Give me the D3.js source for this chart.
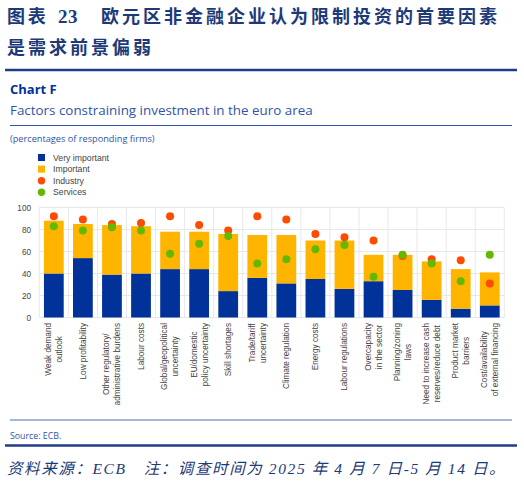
<!DOCTYPE html>
<html>
    <head>
        <title>Chart F</title>
        <meta charset="UTF-8">
        <style>
            body { margin: 0; background: #ffffff; }
            svg { display: block; }
        </style>
    </head>
    <body>
        <script src="https://cdn.jsdelivr.net/npm/d3@7/dist/d3.min.js" charset="utf-8"></script>
        <script>

            //Chart data.
            var categories = [
                ["Weak demand", "outlook"],
                ["Low profitability"],
                ["Other regulatory/", "administrative burdens"],
                ["Labour costs"],
                ["Global/geopolitical", "uncertainty"],
                ["EU/domestic", "policy uncertainty"],
                ["Skill shortages"],
                ["Trade/tariff", "uncertainty"],
                ["Climate regulation"],
                ["Energy costs"],
                ["Labour regulations"],
                ["Overcapacity", "in the sector"],
                ["Planning/zoning", "laws"],
                ["Need to increase cash", "reserves/reduce debt"],
                ["Product market", "barriers"],
                ["Cost/availability", "of external financing"]
            ];
            var veryImportant = [40, 54, 39, 40, 44, 44, 24, 36, 31, 35, 26, 33, 25, 16, 8, 11];
            var important     = [48, 31, 45, 43, 34, 34, 52, 39, 44, 35, 44, 24, 32, 35, 36, 30];
            var industry      = [92, 89, 85, 86, 92, 84, 79, 92, 89, 76, 73, 70, 56, 53, 52, 31];
            var services      = [83, 79, 82, 79, 58, 67, 74, 49, 53, 62, 66, 37, 57, 49, 33, 57];
            var yTicks = [0, 20, 40, 60, 80, 100];
            var legendItems = [
                { label: "Very important", kind: "square", color: "#003299" },
                { label: "Important", kind: "square", color: "#ffb400" },
                { label: "Industry", kind: "dot", color: "#ff4b00" },
                { label: "Services", kind: "dot", color: "#65b800" }
            ];

            var navy = "#1c3a78",
                ecbBlue = "#003299",
                lightBlue = "#2e55a8",
                axisFont = "'Liberation Sans', Arial, sans-serif",
                headFont = "'Open Sans', 'Noto Sans', sans-serif",
                cjkFont = "'Liberation Serif', 'Noto Sans CJK SC', serif";

            var svg = d3.select("body").append("svg")
                        .attr("width", 524)
                        .attr("height", 481);

            //Chinese report title (two lines).
            function cjkText(x, y, size, str, spacing) {
                return svg.append("text")
                          .attr("x", x)
                          .attr("y", y)
                          .attr("font-family", cjkFont)
                          .attr("font-size", size)
                          .attr("font-weight", "bold")
                          .attr("letter-spacing", spacing)
                          .attr("fill", navy)
                          .text(str);
            }
            cjkText(7, 23, 18, "图表", 2.8);
            cjkText(58, 23, 19, "23", 0.5);
            cjkText(101, 23, 18, "欧元区非金融企业认为限制投资的首要因素", 3);
            cjkText(7, 54, 18, "是需求前景偏弱", 3);

            //Horizontal rules.
            function rule(y, x1, x2, width, color) {
                svg.append("line")
                   .attr("x1", x1).attr("x2", x2)
                   .attr("y1", y).attr("y2", y)
                   .attr("stroke", color)
                   .attr("stroke-width", width);
            }
            rule(70, 5, 517, 2.5, "#1f3c88");
            rule(125.5, 10, 512, 1, lightBlue);
            rule(420, 10, 512, 1, "#4a72c0");
            rule(445.5, 5, 517, 2.5, "#1f3c88");

            //ECB chart header.
            svg.append("text")
               .attr("x", 10).attr("y", 93.5)
               .attr("font-family", headFont)
               .attr("font-size", 13)
               .attr("font-weight", "bold")
               .attr("fill", ecbBlue)
               .text("Chart F");
            svg.append("text")
               .attr("x", 10).attr("y", 115)
               .attr("font-family", headFont)
               .attr("font-size", 13.4)
               .attr("fill", lightBlue)
               .text("Factors constraining investment in the euro area");
            svg.append("text")
               .attr("x", 10).attr("y", 141.5)
               .attr("font-family", headFont)
               .attr("font-size", 9.2)
               .attr("fill", lightBlue)
               .text("(percentages of responding firms)");

            //Legend.
            var legend = svg.append("g").attr("transform", "translate(41.5,157.5)");
            legendItems.forEach(function (d, i) {
                var row = legend.append("g").attr("transform", "translate(0," + (i * 11.6) + ")");
                if (d.kind == "square")
                    row.append("rect").attr("x", -3.5).attr("y", -3.5).attr("width", 7).attr("height", 7).attr("fill", d.color);
                else
                    row.append("circle").attr("r", 3.7).attr("fill", d.color);
                row.append("text")
                   .attr("x", 11.5).attr("y", 0)
                   .attr("dy", "0.35em")
                   .attr("font-family", axisFont)
                   .attr("font-size", 8.7)
                   .attr("fill", "#444444")
                   .text(d.label);
            });

            //Scales.
            var idx = d3.range(categories.length);
            var x = d3.scaleBand()
                      .domain(idx)
                      .range([39.3, 504.3])
                      .paddingInner(0.32)
                      .paddingOuter(0.16);
            var y = d3.scaleLinear()
                      .domain([0, 100])
                      .range([317.5, 207.5]);
            var step = x.step(),
                bandLeft = function (i) { return x(i) - step * 0.16; };

            //Grid: horizontal lines at ticks, vertical lines between categories.
            var grid = svg.append("g").attr("stroke", "#e2e2e2").attr("stroke-width", 0.8);
            grid.selectAll("line.h").data(yTicks).enter().append("line")
                .attr("x1", 39.3).attr("x2", 504.3)
                .attr("y1", function (d) { return y(d); })
                .attr("y2", function (d) { return y(d); });
            grid.selectAll("line.v").data(d3.range(categories.length + 1)).enter().append("line")
                .attr("x1", function (i) { return 39.3 + i * step; })
                .attr("x2", function (i) { return 39.3 + i * step; })
                .attr("y1", y(100)).attr("y2", y(0));

            //Y axis labels.
            var yAxis = svg.append("g")
                           .attr("transform", "translate(34,0)")
                           .call(d3.axisLeft(y).tickValues(yTicks).tickSize(0).tickPadding(3));
            yAxis.select(".domain").remove();
            yAxis.selectAll("text")
                 .attr("font-family", axisFont)
                 .attr("font-size", 8.2)
                 .attr("fill", "#444444");

            //Stacked bars.
            var stackRows = idx.map(function (i) { return { i: i, very: veryImportant[i], imp: important[i] }; });
            var stacked = d3.stack().keys(["very", "imp"])(stackRows);
            var barColors = ["#003299", "#ffb400"];
            svg.selectAll("g.layer").data(stacked).enter().append("g")
               .attr("fill", function (d, k) { return barColors[k]; })
               .selectAll("rect").data(function (d) { return d; }).enter().append("rect")
               .attr("x", function (d) { return x(d.data.i); })
               .attr("width", x.bandwidth())
               .attr("y", function (d) { return y(d[1]); })
               .attr("height", function (d) { return y(d[0]) - y(d[1]); });

            //Dots: industry first, services drawn on top.
            function dots(values, color) {
                svg.append("g").selectAll("circle").data(values).enter().append("circle")
                   .attr("cx", function (d, i) { return x(i) + x.bandwidth() / 2; })
                   .attr("cy", function (d) { return y(d); })
                   .attr("r", 4)
                   .attr("fill", color);
            }
            dots(industry, "#ff4b00");
            dots(services, "#65b800");

            //Rotated category labels, lines centred on each other, block hung from the axis.
            var lineGap = 11;
            idx.forEach(function (i) {
                var lines = categories[i];
                var cx = bandLeft(i) + step / 2;
                var g = svg.append("g");
                var texts = lines.map(function (str, k) {
                    var lx = cx + (k - (lines.length - 1) / 2) * lineGap;
                    return g.append("text")
                            .attr("font-family", axisFont)
                            .attr("font-size", 8.2)
                            .attr("fill", "#444444")
                            .attr("text-anchor", "middle")
                            .attr("dy", "0.35em")
                            .attr("data-x", lx)
                            .text(str);
                });
                var maxLen = d3.max(texts, function (t) { return t.node().getComputedTextLength(); });
                var cy = 323 + maxLen / 2;
                texts.forEach(function (t) {
                    var lx = +t.attr("data-x");
                    t.attr("transform", "translate(" + lx + "," + cy + ") rotate(-90)");
                });
            });

            //Source and Chinese note.
            svg.append("text")
               .attr("x", 10).attr("y", 438.5)
               .attr("font-family", headFont)
               .attr("font-size", 8.8)
               .attr("fill", lightBlue)
               .text("Source: ECB.");
            svg.append("text")
               .attr("x", 7).attr("y", 474)
               .attr("font-family", cjkFont)
               .attr("font-size", 15.5)
               .attr("font-style", "italic")
               .attr("fill", navy)
               .attr("letter-spacing", 1.6)
               .text("资料来源：ECB　注：调查时间为 2025 年 4 月 7 日-5 月 14 日。");

        </script>
    </body>
</html>
